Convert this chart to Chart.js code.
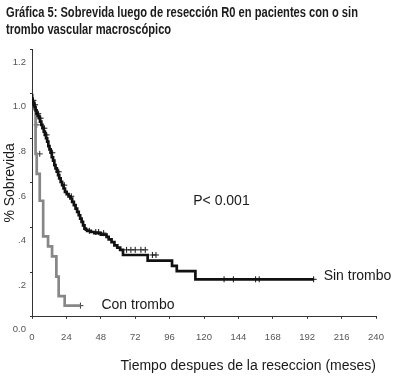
<!DOCTYPE html>
<html>
<head>
<meta charset="utf-8">
<script src="https://cdn.jsdelivr.net/npm/chart.js@4/dist/chart.umd.min.js"></script>
<style>
  body { margin: 0; background: #fff; }
  #wrap { width: 400px; height: 380px; }
</style>
</head>
<body>
<div id="wrap"><canvas id="kmChart" width="400" height="380"></canvas></div>
<script>
// Sin trombo: time (months) where the curve steps down, and survival after the step
const sinTiempo = [0, 0.5, 1.2, 1.8, 2.5, 3.2, 4.0, 4.8, 5.6, 6.5, 7.3, 8.2, 9.0, 9.8, 10.6, 11.4, 12.2, 13.0, 13.8,
  14.7, 15.6, 16.4, 17.3, 18.2, 19.0, 20.0, 21.0, 22.0, 23.0, 24.2, 25.5, 26.8, 28.0, 29.2, 30.4, 31.5, 32.6, 33.6,
  34.6, 35.6, 36.6, 37.6, 38.5, 41.0, 43.5, 48.0, 52.0, 53.5, 55.5, 57.5, 59.5, 61.5, 63.5, 80.7, 97.7, 101.0,
  114.0, 117.2, 196.5];
const sinSobrevida = [1.0, 0.97, 0.96, 0.95, 0.94, 0.925, 0.91, 0.90, 0.89, 0.875, 0.86, 0.845, 0.83, 0.815, 0.80,
  0.785, 0.765, 0.75, 0.735, 0.715, 0.70, 0.68, 0.665, 0.65, 0.635, 0.62, 0.605, 0.59, 0.575, 0.56, 0.55, 0.54, 0.53,
  0.515, 0.50, 0.485, 0.47, 0.455, 0.44, 0.425, 0.41, 0.395, 0.39, 0.385, 0.38, 0.375, 0.368, 0.358, 0.347, 0.335,
  0.32, 0.31, 0.30, 0.277, 0.252, 0.228, 0.205, 0.168, 0.168];

// Con trombo
const conTiempo = [0, 1.5, 2.5, 3.3, 5.4, 7.8, 11.2, 14.0, 17.0, 18.6, 22.8, 33.3, 33.8];
const conSobrevida = [1.0, 0.96, 0.93, 0.73, 0.64, 0.52, 0.36, 0.316, 0.271, 0.18, 0.093, 0.05, 0.05];

// censored cases (+ marks)
const sinCensTiempo = [1.0, 2.2, 4.4, 6.0, 8.6, 10.2, 14.2, 18.6, 22.5, 27.4, 40.0, 44.5, 46.5, 50.0,
  66.0, 69.0, 72.0, 76.0, 79.0, 84.0, 86.5, 134.0, 140.5, 156.0, 158.5, 196.5];
const sinCensSobrevida = [0.97, 0.95, 0.91, 0.89, 0.845, 0.815, 0.735, 0.65, 0.59, 0.54, 0.385, 0.38, 0.38, 0.375,
  0.30, 0.30, 0.30, 0.30, 0.30, 0.277, 0.277, 0.168, 0.168, 0.168, 0.168, 0.168];
const conCensTiempo = [3.3, 5.4, 33.8];
const conCensSobrevida = [0.86, 0.73, 0.05];

const yTickLabels = ['0.0', '.2', '.4', '.6', '.8', '1.0', '1.2'];

const tituloLineas = [
  'Gráfica 5: Sobrevida luego de resección R0 en pacientes con o sin',
  'trombo vascular macroscópico'
];

function toPoints(xs, ys) {
  return xs.map((x, i) => ({ x: x, y: ys[i] }));
}

const labelFont = '14px "Liberation Sans", Arial, sans-serif';

// narrow bold heading, squeezed horizontally like the original condensed face
const tituloPlugin = {
  id: 'titulo',
  afterDraw(chart) {
    const c = chart.ctx;
    c.save();
    c.font = 'bold 14px "Liberation Sans", Arial, sans-serif';
    c.fillStyle = '#1c1c1c';
    c.textBaseline = 'alphabetic';
    c.translate(6, 0);
    c.scale(0.795, 1);
    c.fillText(tituloLineas[0], 0, 17);
    c.fillText(tituloLineas[1], 0, 34);
    c.restore();
  }
};

// text notes placed at data coordinates
const notesPlugin = {
  id: 'notes',
  afterDatasetsDraw(chart) {
    const { ctx, scales } = chart;
    const x = scales.x, y = scales.y;
    ctx.save();
    ctx.font = labelFont;
    ctx.fillStyle = '#1a1a1a';
    ctx.textBaseline = 'middle';
    ctx.textAlign = 'left';
    ctx.fillText('P< 0.001', x.getPixelForValue(112.5), y.getPixelForValue(0.517));
    const sinEnd = sinTiempo.length - 1;
    ctx.fillText('Sin trombo', x.getPixelForValue(sinTiempo[sinEnd]) + 10, y.getPixelForValue(sinSobrevida[sinEnd]) - 3);
    const conEnd = conTiempo.length - 1;
    ctx.fillText('Con trombo', x.getPixelForValue(conTiempo[conEnd]) + 21, y.getPixelForValue(conSobrevida[conEnd]) - 1);
    ctx.restore();
  }
};

const ctx = document.getElementById('kmChart').getContext('2d');
const kmChart = new Chart(ctx, {
  type: 'line',
  data: {
    datasets: [
      {
        label: 'Sin trombo',
        data: toPoints(sinTiempo, sinSobrevida),
        stepped: 'after',
        borderColor: '#111111',
        borderWidth: 2.7,
        pointRadius: 0,
        fill: false
      },
      {
        label: 'Sin trombo censurados',
        type: 'scatter',
        data: toPoints(sinCensTiempo, sinCensSobrevida),
        pointStyle: 'cross',
        pointRadius: 3,
        borderColor: '#111111',
        borderWidth: 1,
        showLine: false
      },
      {
        label: 'Con trombo',
        data: toPoints(conTiempo, conSobrevida),
        stepped: 'after',
        borderColor: '#878787',
        borderWidth: 2.7,
        pointRadius: 0,
        fill: false
      },
      {
        label: 'Con trombo censurados',
        type: 'scatter',
        data: toPoints(conCensTiempo, conCensSobrevida),
        pointStyle: 'cross',
        pointRadius: 3,
        borderColor: '#333333',
        borderWidth: 1,
        showLine: false
      }
    ]
  },
  options: {
    responsive: false,
    animation: false,
    layout: { padding: { left: 0, right: 24, top: 49, bottom: 5 } },
    plugins: {
      legend: { display: false },
      tooltip: { enabled: false },
      title: { display: false }
    },
    scales: {
      x: {
        type: 'linear',
        min: 0,
        max: 240,
        ticks: {
          stepSize: 24,
          color: '#555555',
          font: { family: '"Liberation Sans", Arial, sans-serif', size: 9.5 },
          padding: 13,
          maxRotation: 0
        },
        grid: { drawOnChartArea: false, drawTicks: true, tickLength: 2, color: '#333333' },
        border: { display: true, color: '#333333', width: 1 },
        title: {
          display: true,
          text: 'Tiempo despues de la reseccion (meses)',
          align: 'end',
          color: '#1a1a1a',
          font: { family: '"Liberation Sans", Arial, sans-serif', size: 14 },
          padding: { top: 2, bottom: 0 }
        }
      },
      y: {
        min: 0,
        max: 1.2,
        afterFit(scale) { scale.width = 32; },
        ticks: {
          stepSize: 0.2,
          color: '#555555',
          font: { family: '"Liberation Sans", Arial, sans-serif', size: 9.5 },
          padding: 4,
          labelOffset: 13,
          callback: (value) => yTickLabels[Math.round(value / 0.2)]
        },
        grid: { drawOnChartArea: false, drawTicks: true, tickLength: 2, color: '#333333' },
        border: { display: true, color: '#333333', width: 1 },
        title: {
          display: true,
          text: '% Sobrevida',
          color: '#1a1a1a',
          font: { family: '"Liberation Sans", Arial, sans-serif', size: 14, lineHeight: 1.2 },
          padding: { top: 2, bottom: 0 }
        }
      }
    }
  },
  plugins: [notesPlugin, tituloPlugin]
});
</script>
</body>
</html>
